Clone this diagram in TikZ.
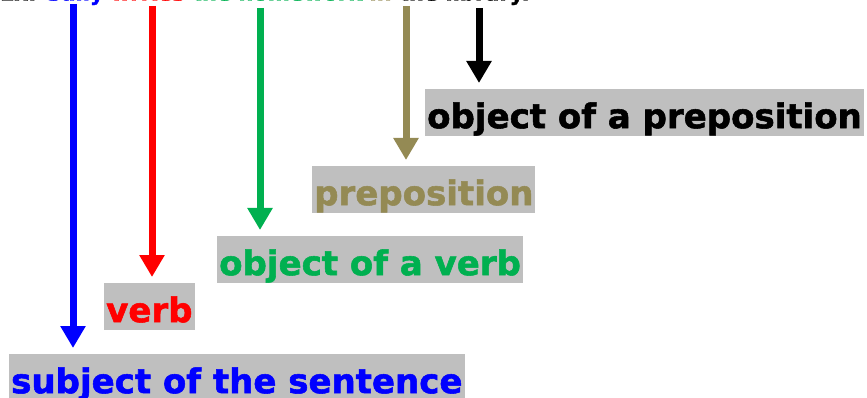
\documentclass[tikz,border=0pt]{standalone}
\usepackage{fontspec}
\setmainfont{DejaVu Sans}
\newfontfamily\heavy{DejaVu Sans Bold}[FakeBold=1.6]
\usetikzlibrary{arrows.meta}
\definecolor{boxgray}{RGB}{191,191,191}
\definecolor{cblue}{RGB}{0,0,255}
\definecolor{cred}{RGB}{255,0,0}
\definecolor{cgreen}{RGB}{0,176,80}
\definecolor{colive}{RGB}{148,138,84}
\begin{document}
\begin{tikzpicture}[x=1pt,y=-1pt,
  lbl/.style={fill=boxgray,inner xsep=2pt,inner ysep=0pt,text height=39pt,text depth=8pt,
    anchor=north west,font=\fontsize{34}{40}\heavy},
  arr/.style={line width=7pt,-{Triangle[width=24pt,length=22pt]},shorten >=6pt},
  sent/.style={anchor=base west,inner sep=0pt,font=\fontsize{21}{25}\heavy}]
\useasboundingbox (0,0) rectangle (867,398);
\clip (0,0) rectangle (867,398);
\node[sent] (ex) at (0,0.5) {Ex: \textcolor{cblue}{Sally} \textcolor{cred}{writes} \textcolor{cgreen}{the homework} \textcolor{colive}{in} the library.};
\coordinate (a1) at (73,4);
\coordinate (a2) at (152,6);
\coordinate (a3) at (260,8);
\coordinate (a4) at (406,6);
\coordinate (a5) at (479,8);
\node[lbl,text=cblue] (subj) at (9,354) {subject of the sentence};
\node[lbl,text=cred] (verb) at (104,283) {verb};
\node[lbl,text=cgreen] (objv) at (217,236) {object of a verb};
\node[lbl,text=colive] (prep) at (312,166) {preposition};
\node[lbl,text=black] (objp) at (425,89) {object of a preposition};
\draw[arr,cblue] (a1) -- (a1 |- subj.north);
\draw[arr,cred] (a2) -- (a2 |- verb.north);
\draw[arr,cgreen] (a3) -- (a3 |- objv.north);
\draw[arr,colive] (a4) -- (a4 |- prep.north);
\draw[arr,black] (a5) -- (a5 |- objp.north);
\end{tikzpicture}
\end{document}
